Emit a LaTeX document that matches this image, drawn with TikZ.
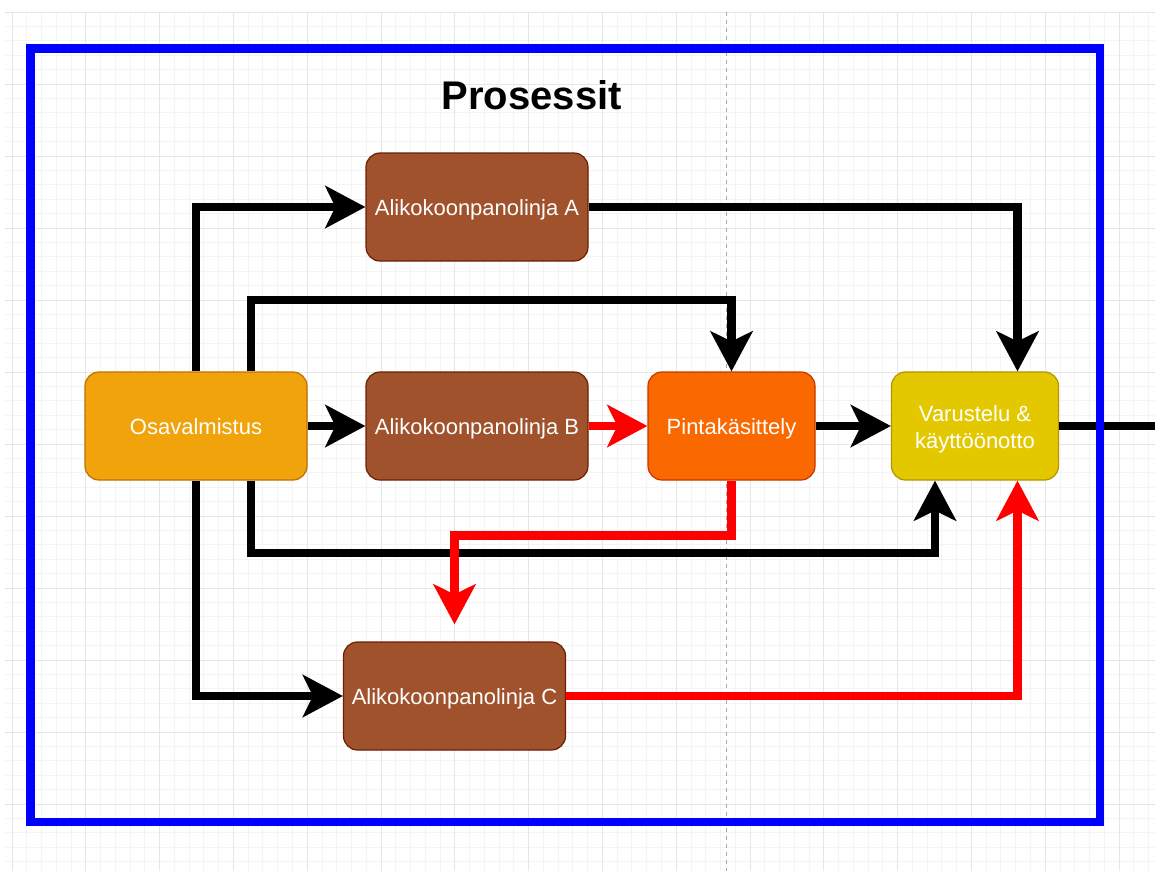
\documentclass[tikz,border=0pt]{standalone}
\usepackage{fontspec}
\setmainfont{Liberation Sans}
\usetikzlibrary{arrows.meta,calc}
\definecolor{osafill}{HTML}{F0A30A}
\definecolor{osadraw}{HTML}{BD7000}
\definecolor{linefill}{HTML}{A0522D}
\definecolor{linedraw}{HTML}{6D1F00}
\definecolor{pintafill}{HTML}{FA6800}
\definecolor{pintadraw}{HTML}{C73500}
\definecolor{varfill}{HTML}{E3C800}
\definecolor{vardraw}{HTML}{B09500}
\definecolor{minorgrid}{HTML}{F4F4F4}
\definecolor{majorgrid}{HTML}{E6E6E6}
\definecolor{frameblue}{HTML}{0000FF}
\definecolor{flowred}{HTML}{FF0000}
\begin{document}
\begin{tikzpicture}[x=1pt,y=-1pt,
  >={Stealth[length=40pt,width=42pt,inset=10pt]},
  box/.style={rectangle, rounded corners=14pt, draw, line width=1.2pt,
    minimum width=222pt, minimum height=108pt, inner sep=0pt, text=white,
    font=\fontsize{22}{26.4}\selectfont, text height=16pt, text depth=0pt},
  narrowbox/.style={box, minimum width=167pt},
  blkflow/.style={draw=black, line width=8.5pt, ->},
  redflow/.style={draw=flowred, line width=8.5pt, ->},
  gridminor/.style={draw=minorgrid, line width=0.9pt},
  gridmajor/.style={draw=majorgrid, line width=1pt}]

\useasboundingbox (0,0) rectangle (1160,871);
\fill[white] (0,0) rectangle (1160,871);

% background grid
\foreach \k in {0,...,77} {
  \pgfmathsetmacro\xx{12+14.76*\k}
  \draw[gridminor] (\xx,12) -- (\xx,871);
}
\foreach \k in {0,...,59} {
  \pgfmathsetmacro\yy{12+14.4*\k}
  \draw[gridminor] (5,\yy) -- (1155,\yy);
}
\foreach \k in {0,...,15} {
  \pgfmathsetmacro\xx{12+73.8*\k}
  \draw[gridmajor] (\xx,12) -- (\xx,871);
}
\foreach \k in {0,...,11} {
  \pgfmathsetmacro\yy{12+72*\k}
  \draw[gridmajor] (5,\yy) -- (1155,\yy);
}
\draw[gray!70, line width=1pt, dash pattern=on 4pt off 4pt] (726,12) -- (726,871);

% title
\node[anchor=base, font=\fontsize{40}{48}\selectfont\bfseries] (title) at (531.7,109) {Prosessit};

% nodes
\node[box, fill=osafill, draw=osadraw] (osa) at (196,426) {Osavalmistus};
\node[box, fill=linefill, draw=linedraw] (A) at (477,207) {Alikokoonpanolinja A};
\node[box, fill=linefill, draw=linedraw] (B) at (477,426) {Alikokoonpanolinja B};
\node[narrowbox, fill=pintafill, draw=pintadraw] (P) at (731.5,426) {Pintakäsittely};
\node[narrowbox, fill=varfill, draw=vardraw, align=center, text height=44pt, text depth=0pt] (V) at (975,426) {Varustelu \&\\käyttöönotto};
\node[box, fill=linefill, draw=linedraw] (C) at (454.5,696) {Alikokoonpanolinja C};
\coordinate (out) at (1155,426);

% black connectors
\draw[blkflow] (osa.north) |- (A.west);
\draw[blkflow] (osa.east) -- (B.west);
\draw[blkflow] ($(osa.north)+(55,0)$) -- ++(0,-71.5) -| (P.north);
\draw[blkflow] ($(osa.south)+(55,0)$) -- ++(0,72.5) -| ($(V.south)+(-40,0)$);
\draw[blkflow] (osa.south) |- (C.west);
\draw[blkflow] (A.east) -| ($(V.north)+(42.5,0)$);
\draw[blkflow] (P.east) -- (V.west);
\draw[draw=black, line width=8.5pt] (V.east) -- (out);

% red connectors
\draw[redflow] (B.east) -- (P.west);
\draw[redflow] (P.south) -- ++(0,55) -| ($(C.north)+(0,-17)$);
\draw[redflow] (C.east) -| ($(V.south)+(42.5,0)$);

% frame
\draw[frameblue, line width=8.5pt] (30.5,48.5) rectangle (1100,822);
\end{tikzpicture}
\end{document}
